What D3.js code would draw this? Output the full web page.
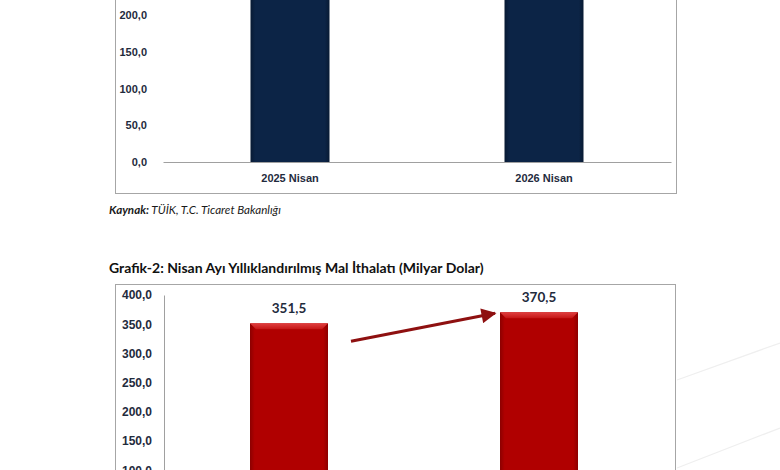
<!DOCTYPE html>
<html>
<head>
<meta charset="utf-8">
<script src="https://cdn.jsdelivr.net/npm/d3@7"></script>
<style>
  body { margin: 0; background: #fff; }
  svg { display: block; font-family: Lato, "Open Sans", sans-serif; }
</style>
</head>
<body>
<div id="chart"></div>
<script>
// data
const categories = ['2025 Nisan', '2026 Nisan']
const exportValues = [263.5, 273.4]   // Grafik-1, tops are cut off in the picture
const importValues = [351.5, 370.5]   // Grafik-2
const exportTicks = [0, 50, 100, 150, 200]   // higher ticks fall above the crop
const importTicks = [0, 50, 100, 150, 200, 250, 300, 350, 400]
const titleText = 'Grafik-2: Nisan Ayı Yıllıklandırılmış Mal İthalatı (Milyar Dolar)'

function draw() {
    const width = 780
    const height = 470

    const tr = d3.formatLocale({ decimal: ',', thousands: '.', grouping: [3], currency: ['', ''] })
    const fmt = tr.format('.1f')

    const svg = d3.select('#chart')
        .append('svg')
        .attr('width', width)
        .attr('height', height)

    const defs = svg.append('defs')

    function barGradient(id, edge, mid) {
        const g = defs.append('linearGradient').attr('id', id)
            .attr('x1', 0).attr('x2', 1).attr('y1', 0).attr('y2', 0)
        g.append('stop').attr('offset', '0%').attr('stop-color', edge)
        g.append('stop').attr('offset', '6%').attr('stop-color', mid)
        g.append('stop').attr('offset', '94%').attr('stop-color', mid)
        g.append('stop').attr('offset', '100%').attr('stop-color', edge)
    }
    barGradient('navyGrad', '#081a33', '#0c2446')
    barGradient('redGrad', '#8c0000', '#b00000')

    const bevGrad = defs.append('linearGradient').attr('id', 'bevGrad')
        .attr('x1', 0).attr('x2', 0).attr('y1', 0).attr('y2', 1)
    bevGrad.append('stop').attr('offset', '0%').attr('stop-color', '#e04040')
    bevGrad.append('stop').attr('offset', '100%').attr('stop-color', '#c41515')

    defs.append('marker')
        .attr('id', 'arrowHead')
        .attr('viewBox', '0 0 10 10')
        .attr('refX', 9).attr('refY', 5)
        .attr('markerWidth', 5.5).attr('markerHeight', 5)
        .attr('orient', 'auto')
        .append('path')
        .attr('d', 'M0,0 L10,5 L0,10 Z')
        .attr('fill', '#8e1010')

    const labelColor = '#1f2b3d'

    // faint page decoration on the right
    svg.append('g')
        .attr('stroke', '#efefef')
        .attr('stroke-width', 1.2)
        .call(g => g.append('line').attr('x1', 677).attr('y1', 380).attr('x2', 780).attr('y2', 343))
        .call(g => g.append('line').attr('x1', 677).attr('y1', 468).attr('x2', 780).attr('y2', 428))

    // ---------- Grafik-1 (top, mostly cropped) ----------
    const top = { left: 163, right: 671, base: 162 }
    const yTop = d3.scaleLinear()
        .domain([0, 300])
        .range([top.base, top.base - 300 * 0.735])
    const xTop = d3.scaleBand()
        .domain(categories)
        .range([top.left, top.right])
        .paddingInner(0.689)
        .paddingOuter(0.3445)

    svg.append('rect')
        .attr('x', 115.5).attr('y', -80)
        .attr('width', 561).attr('height', 273.5)
        .attr('fill', 'none')
        .attr('stroke', '#a6a6a6')

    const topBars = svg.append('g')
    topBars.selectAll('rect')
        .data(exportValues)
        .join('rect')
        .attr('x', (d, i) => xTop(categories[i]))
        .attr('y', d => yTop(d))
        .attr('width', xTop.bandwidth())
        .attr('height', d => yTop(0) - yTop(d))
        .attr('fill', 'url(#navyGrad)')

    const yAxisTop = d3.axisLeft(yTop).tickValues(exportTicks).tickSize(0).tickPadding(16).tickFormat(fmt)
    svg.append('g')
        .attr('transform', `translate(${top.left}, 0)`)
        .call(yAxisTop)
        .call(g => g.select('.domain').remove())
        .call(g => g.selectAll('text')
            .attr('fill', labelColor)
            .style('font-size', '11px')
            .style('font-weight', 700))

    const xAxisTop = d3.axisBottom(xTop).tickSize(0).tickPadding(12)
    svg.append('g')
        .attr('transform', `translate(0, ${top.base})`)
        .call(xAxisTop)
        .call(g => g.select('.domain').attr('stroke', '#a0a0a0'))
        .call(g => g.selectAll('text')
            .attr('fill', labelColor)
            .style('font-size', '11px')
            .style('font-weight', 700))

    svg.append('text')
        .attr('x', 109).attr('y', 214)
        .style('font-size', '11.6px')
        .style('font-style', 'italic')
        .attr('fill', '#1a1a1a')
        .call(t => t.append('tspan').style('font-weight', 700).text('Kaynak:'))
        .call(t => t.append('tspan').text(' TÜİK, T.C. Ticaret Bakanlığı'))

    // ---------- Grafik-2 (bottom) ----------
    svg.append('text')
        .attr('x', 109).attr('y', 273)
        .style('font-size', '14px')
        .style('font-weight', 700)
        .attr('fill', '#111')
        .text(titleText)

    svg.append('rect')
        .attr('x', 115.5).attr('y', 284.5)
        .attr('width', 560).attr('height', 300)
        .attr('fill', 'none')
        .attr('stroke', '#a6a6a6')

    const bot = { left: 164, right: 664, base: 528.6 }
    const yBot = d3.scaleLinear()
        .domain([0, 400])
        .range([bot.base, bot.base - 400 * 0.584])
    const xBot = d3.scaleBand()
        .domain(categories)
        .range([bot.left, bot.right])
        .paddingInner(0.688)
        .paddingOuter(0.344)

    const bw = xBot.bandwidth()
    const botBars = svg.append('g')
    botBars.selectAll('rect.main')
        .data(importValues)
        .join('rect')
        .attr('class', 'main')
        .attr('x', (d, i) => xBot(categories[i]))
        .attr('y', d => yBot(d))
        .attr('width', bw)
        .attr('height', d => yBot(0) - yBot(d))
        .attr('fill', 'url(#redGrad)')

    // bevel on the top edge
    const bev = 6
    botBars.selectAll('path.bevel')
        .data(importValues)
        .join('path')
        .attr('class', 'bevel')
        .attr('d', (d, i) => {
            const x0 = xBot(categories[i])
            const y0 = yBot(d)
            return `M${x0},${y0} L${x0 + bw},${y0} L${x0 + bw - bev},${y0 + bev} L${x0 + bev},${y0 + bev} Z`
        })
        .attr('fill', 'url(#bevGrad)')

    botBars.selectAll('text')
        .data(importValues)
        .join('text')
        .attr('x', (d, i) => xBot(categories[i]) + bw / 2)
        .attr('y', d => yBot(d) - 10)
        .attr('text-anchor', 'middle')
        .attr('fill', labelColor)
        .style('font-size', '13.5px')
        .style('font-weight', 700)
        .text(fmt)

    const yAxisBot = d3.axisLeft(yBot).tickValues(importTicks).tickSize(0).tickPadding(12).tickFormat(fmt)
    svg.append('g')
        .attr('transform', `translate(${bot.left}, 0)`)
        .call(yAxisBot)
        .call(g => g.select('.domain').attr('stroke', '#a0a0a0'))
        .call(g => g.selectAll('text')
            .attr('fill', labelColor)
            .style('font-size', '12px')
            .style('font-weight', 700))

    // trend arrow between the two bars
    const a0 = [xBot(categories[0]) + bw + 23, yBot(importValues[0]) + 18]
    const a1 = [xBot(categories[1]) - 5, yBot(importValues[1]) + 1]
    svg.append('line')
        .attr('x1', a0[0]).attr('y1', a0[1])
        .attr('x2', a1[0]).attr('y2', a1[1])
        .attr('stroke', '#8e1010')
        .attr('stroke-width', 3)
        .attr('marker-end', 'url(#arrowHead)')
}

draw()
</script>
</body>
</html>
